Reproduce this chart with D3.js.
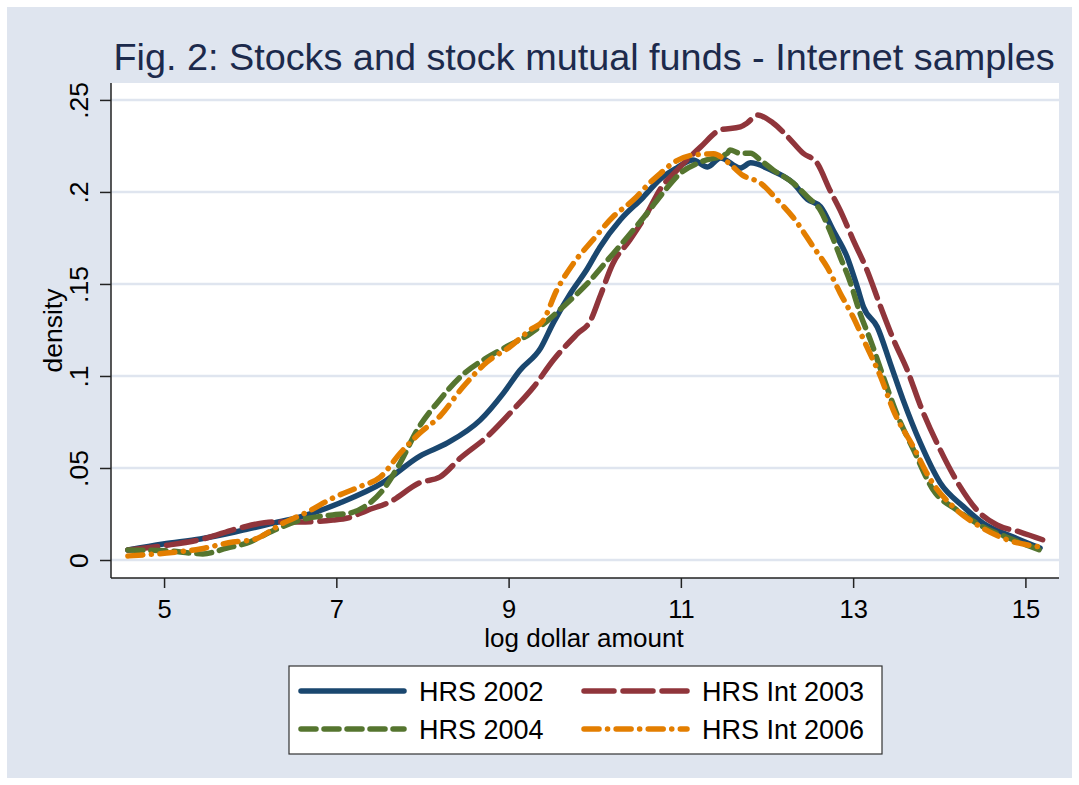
<!DOCTYPE html>
<html><head><meta charset="utf-8">
<script src="https://cdn.jsdelivr.net/npm/d3@7/dist/d3.min.js"></script>
<style>body{margin:0;background:#fff}svg{display:block}</style>
</head><body>
<script>
// ---- data ----
const title = "Fig. 2: Stocks and stock mutual funds - Internet samples";
const xLabel = "log dollar amount";
const yLabel = "density";
const xTicks = [5, 7, 9, 11, 13, 15];
const yTicks = [0, 0.05, 0.1, 0.15, 0.2, 0.25];
const yTickLabels = ["0", ".05", ".1", ".15", ".2", ".25"];
const seriesNames = ["HRS 2002", "HRS Int 2003", "HRS 2004", "HRS Int 2006"];

const x2002 = [4.58,4.99,5.42,5.88,6.27,6.58,7.04,7.54,7.97,8.29,8.67,8.94,9.13,9.37,9.52,9.72,9.91,10.06,10.3,10.56,10.76,10.95,11.14,11.31,11.46,11.69,11.81,12.04,12.3,12.47,12.62,12.77,12.93,13.05,13.12,13.28,13.43,13.58,13.78,14.01,14.28,14.51,14.86,15.17];
const y2002 = [0.0054,0.0087,0.0114,0.0158,0.020,0.0234,0.031,0.042,0.0565,0.0636,0.076,0.0907,0.103,0.115,0.129,0.145,0.158,0.170,0.185,0.197,0.207,0.213,0.2174,0.2136,0.2185,0.213,0.2158,0.212,0.205,0.196,0.192,0.179,0.1647,0.148,0.1375,0.1266,0.107,0.087,0.0636,0.042,0.029,0.020,0.0125,0.0065];

const x2003 = [4.58,5.03,5.45,5.88,6.27,6.58,6.96,7.13,7.36,7.62,7.97,8.2,8.44,8.75,9.05,9.29,9.52,9.8,9.95,10.06,10.21,10.41,10.61,10.76,10.96,11.23,11.46,11.69,11.77,11.89,12.07,12.24,12.42,12.58,12.73,12.85,13.0,13.16,13.32,13.47,13.63,13.78,14.01,14.24,14.44,14.67,14.94,15.2];
const y2003 = [0.0054,0.008,0.0114,0.0174,0.0207,0.0207,0.0217,0.0228,0.027,0.0315,0.042,0.045,0.0554,0.067,0.0815,0.094,0.1087,0.123,0.130,0.143,0.161,0.174,0.1886,0.2015,0.212,0.2245,0.2337,0.2353,0.2375,0.2418,0.2375,0.23,0.221,0.2158,0.201,0.190,0.174,0.1576,0.1375,0.1196,0.103,0.084,0.060,0.040,0.027,0.019,0.0152,0.011];

const x2004 = [4.58,5.03,5.3,5.45,5.73,5.96,6.27,6.58,6.96,7.16,7.36,7.54,7.74,7.94,8.2,8.44,8.75,8.98,9.25,9.45,9.68,9.91,10.15,10.38,10.61,10.8,10.99,11.23,11.54,11.57,11.69,11.81,11.92,12.07,12.3,12.47,12.62,12.73,12.85,12.97,13.08,13.2,13.35,13.51,13.7,13.93,14.21,14.51,14.86,15.17];
const y2004 = [0.0054,0.005,0.0038,0.0033,0.0065,0.0092,0.016,0.0217,0.0245,0.0255,0.030,0.038,0.0527,0.0707,0.087,0.0995,0.110,0.116,0.123,0.130,0.1397,0.150,0.163,0.1755,0.1886,0.200,0.210,0.2163,0.221,0.2228,0.221,0.221,0.2174,0.212,0.205,0.1973,0.190,0.179,0.1647,0.1505,0.134,0.1196,0.0995,0.079,0.060,0.038,0.027,0.018,0.011,0.0054];

const x2006 = [4.58,5.03,5.42,5.8,6.03,6.38,6.66,6.96,7.28,7.51,7.74,7.97,8.2,8.47,8.75,9.02,9.25,9.4,9.56,9.75,9.98,10.21,10.45,10.64,10.76,10.91,11.14,11.38,11.54,11.72,11.92,12.12,12.3,12.54,12.7,12.85,13.0,13.16,13.32,13.47,13.7,13.9,14.16,14.48,14.79,15.17];
const y2006 = [0.0022,0.0038,0.006,0.0098,0.011,0.020,0.026,0.0337,0.040,0.045,0.058,0.069,0.078,0.094,0.1076,0.116,0.125,0.130,0.1467,0.161,0.174,0.1864,0.1957,0.205,0.210,0.2158,0.220,0.2207,0.2163,0.209,0.205,0.1957,0.1864,0.170,0.159,0.145,0.132,0.1158,0.0995,0.081,0.0614,0.0435,0.029,0.018,0.011,0.0071];

const seriesX = [x2002, x2003, x2004, x2006];
const seriesY = [y2002, y2003, y2004, y2006];
const colors = ["#1a476f", "#90353b", "#55752f", "#e37e00"];
const dashes = [null, "30,9", "15,8", "15,8.5,0.1,8.5"];

// ---- layout ----
const W = 1079, H = 785;
const plot = {l: 111, r: 1059, t: 83, b: 578};
const svg = d3.select("body").append("svg").attr("width", W).attr("height", H);
const FONT = "'Liberation Sans', Arial, sans-serif";
const FS = 26;

svg.append("rect").attr("x", 7).attr("y", 7).attr("width", 1065).attr("height", 771).attr("fill", "#dfe5ef");
svg.append("rect").attr("x", plot.l).attr("y", plot.t).attr("width", plot.r - plot.l).attr("height", plot.b - plot.t).attr("fill", "#fff");

const x = d3.scaleLinear().domain([4.384, 15.39]).range([plot.l, plot.r]);
const y = d3.scaleLinear().domain([-0.00978, 0.2592]).range([plot.b, plot.t]);

// gridlines
svg.append("g").selectAll("line").data(yTicks).join("line")
  .attr("x1", plot.l).attr("x2", plot.r)
  .attr("y1", d => y(d)).attr("y2", d => y(d))
  .attr("stroke", "#dfe5ef").attr("stroke-width", 2.5);

// axes
const xAxis = d3.axisBottom(x).tickValues(xTicks).tickFormat(d3.format("d")).tickSize(10).tickPadding(6);
const gx = svg.append("g").attr("transform", `translate(0,${plot.b})`).call(xAxis);
gx.select(".domain").attr("d", `M${plot.l},0H${plot.r}`);
gx.selectAll("path,line").attr("stroke", "#222").attr("stroke-width", 1.5);
gx.selectAll("text").attr("font-family", FONT).attr("font-size", 25.5).attr("fill", "#000")
  .attr("y", 39.5).attr("dy", 0);

const yAxis = d3.axisLeft(y).tickValues(yTicks).tickFormat((d, i) => yTickLabels[i]).tickSize(11).tickPadding(0);
const gy = svg.append("g").attr("transform", `translate(${plot.l},0)`).call(yAxis);
gy.select(".domain").attr("d", `M0,${plot.t}V${plot.b}`);
gy.selectAll("path,line").attr("stroke", "#222").attr("stroke-width", 1.5);
gy.selectAll("text").attr("font-family", FONT).attr("font-size", 26.5).attr("fill", "#000")
  .attr("x", 0).attr("dy", 0).attr("text-anchor", "middle")
  .attr("transform", "translate(-23,0) rotate(-90)");

// titles
svg.append("text").attr("x", 584).attr("y", 70).attr("text-anchor", "middle")
  .attr("font-family", FONT).attr("font-size", 37.8).attr("fill", "#1c2a4c").text(title);
svg.append("text").attr("x", 584).attr("y", 646.5).attr("text-anchor", "middle")
  .attr("font-family", FONT).attr("font-size", FS).attr("fill", "#000").text(xLabel);
svg.append("text").attr("transform", `translate(62,${(plot.t + plot.b) / 2}) rotate(-90)`).attr("text-anchor", "middle")
  .attr("font-family", FONT).attr("font-size", 26.5).attr("fill", "#000").text(yLabel);

// lines
const line = d3.line().x(d => x(d[0])).y(d => y(d[1])).curve(d3.curveMonotoneX);
const gLines = svg.append("g");
seriesX.forEach((xs, i) => {
  const pts = xs.map((v, j) => [v, seriesY[i][j]]);
  gLines.append("path").attr("d", line(pts)).attr("fill", "none")
    .attr("stroke", colors[i]).attr("stroke-width", 5.5)
    .attr("stroke-linecap", "round").attr("stroke-linejoin", "round")
    .attr("stroke-dasharray", dashes[i]);
});

// legend
svg.append("rect").attr("x", 289).attr("y", 666).attr("width", 593).attr("height", 88)
  .attr("fill", "#fff").attr("stroke", "#333").attr("stroke-width", 1.2);
const legPos = [[299, 691], [582, 691], [299, 729], [582, 729]];
seriesNames.forEach((n, i) => {
  const [lx, ly] = legPos[i];
  svg.append("line").attr("x1", lx + 2).attr("x2", lx + 105).attr("y1", ly).attr("y2", ly)
    .attr("stroke", colors[i]).attr("stroke-width", 5.5).attr("stroke-linecap", "round")
    .attr("stroke-dasharray", dashes[i]);
  svg.append("text").attr("x", lx + 120).attr("y", ly + 10).attr("font-family", FONT)
    .attr("font-size", 27).attr("fill", "#000").text(n);
});
</script>
</body></html>
